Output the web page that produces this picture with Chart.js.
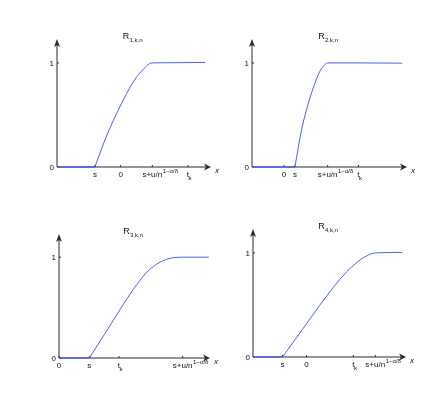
<!DOCTYPE html>
<html>
<head>
<meta charset="utf-8">
<script src="https://cdn.jsdelivr.net/npm/chart.js@4"></script>
<style>
  body { margin: 0; background: #fff; }
  .wrap { position: relative; width: 443px; height: 402px; }
  .wrap div { position: absolute; width: 221px; height: 201px; }
</style>
</head>
<body>
<div class="wrap">
  <div style="left:0;top:0"><canvas id="c1"></canvas></div>
  <div style="left:221px;top:0"><canvas id="c2"></canvas></div>
  <div style="left:0;top:201px"><canvas id="c3"></canvas></div>
  <div style="left:221px;top:201px"><canvas id="c4"></canvas></div>
</div>
<script>
// R_{1,k,n}
const r1FlatX = [0, 2.46];
const r1X = [2.46, 3.22, 4.09, 4.96, 5.61, 6.15, 7.5, 9.63];
const r1Y = [0, 0.30, 0.58, 0.82, 0.94, 1.0, 1.002, 1.005];
const r1Ticks = [2.46, 4.13, 6.19, 8.50];
const r1Labels = ['s', '0', 's+u/n^1−α/δ', 't_k'];

// R_{2,k,n}
const r2FlatX = [0, 2.77];
const r2X = [2.77, 3.20, 3.52, 3.95, 4.38, 4.71, 4.88, 7.0, 9.70];
const r2Y = [0, 0.36, 0.55, 0.76, 0.92, 0.985, 1.0, 1.0, 0.998];
const r2Ticks = [2.07, 2.77, 4.88, 6.87];
const r2Labels = ['0', 's', 's+u/n^1−α/δ', 't_k'];

// R_{3,k,n}
const r3FlatX = [0, 2.01];
const r3X = [2.01, 3.16, 4.04, 4.92, 5.81, 6.69, 7.57, 8.19, 9.93];
const r3Y = [0, 0.27, 0.48, 0.68, 0.85, 0.95, 0.995, 1.0, 1.0];
const r3Ticks = [0, 2.01, 3.97, 8.19];
const r3Labels = ['0', 's', 't_k', 's+u/n^1−α/δ'];

// R_{4,k,n}
const r4FlatX = [0, 1.93];
const r4X = [1.93, 3.50, 4.38, 5.25, 6.13, 6.56, 7.22, 7.99, 9.76];
const r4Y = [0, 0.32, 0.50, 0.67, 0.82, 0.88, 0.955, 1.0, 1.005];
const r4Ticks = [1.93, 3.50, 6.56, 7.99];
const r4Labels = ['s', '0', 't_k', 's+u/n^1−α/δ'];

const yTicks = [0, 1];
const yLabels = ['0', '1'];

const lineColor = '#4d5ef2';
const axisColor = '#2a2a2a';
const fontName = '"Liberation Sans", Arial, sans-serif';

// draws "a^b" (superscript) or "a_b" (subscript), centred on the main part
function drawTickLabel(ctx, text, x, y) {
    let main = text, sup = null, sub = null;
    if (text.includes('^')) [main, sup] = text.split('^');
    else if (text.includes('_')) [main, sub] = text.split('_');
    ctx.font = '8px ' + fontName;
    ctx.textBaseline = 'top';
    ctx.textAlign = 'center';
    ctx.fillText(main, x, y);
    let w = ctx.measureText(main).width;
    ctx.textAlign = 'left';
    if (sup) {
        ctx.font = '6px ' + fontName;
        ctx.fillText(sup, x + w / 2 + 0.5, y - 3);
    }
    if (sub) {
        ctx.font = '6px ' + fontName;
        ctx.fillText(sub, x + w / 2 - 0.5, y + 4);
    }
}

const axesPlugin = {
    id: 'axes',
    beforeDatasetsDraw(chart, args, opts) {
        const { ctx, chartArea: a, scales: { x, y } } = chart;
        const x0 = x.getPixelForValue(0);
        const y0 = y.getPixelForValue(0);
        ctx.save();
        ctx.strokeStyle = axisColor;
        ctx.fillStyle = axisColor;
        ctx.lineWidth = 1;
        ctx.beginPath();
        ctx.moveTo(x0, y0);
        ctx.lineTo(a.right - 4, y0);
        ctx.moveTo(x0, y0);
        ctx.lineTo(x0, a.top + 4);
        ctx.stroke();

        // arrow heads
        ctx.beginPath();
        ctx.moveTo(a.right, y0);
        ctx.lineTo(a.right - 7, y0 - 3.5);
        ctx.lineTo(a.right - 5, y0);
        ctx.lineTo(a.right - 7, y0 + 3.5);
        ctx.closePath();
        ctx.fill();
        ctx.beginPath();
        ctx.moveTo(x0, a.top);
        ctx.lineTo(x0 - 3, a.top + 8);
        ctx.lineTo(x0, a.top + 6);
        ctx.lineTo(x0 + 3, a.top + 8);
        ctx.closePath();
        ctx.fill();

        // small inward tick marks
        ctx.beginPath();
        opts.ticks.forEach(v => {
            const px = x.getPixelForValue(v);
            ctx.moveTo(px, y0);
            ctx.lineTo(px, y0 - 2);
        });
        yTicks.forEach(v => {
            const py = y.getPixelForValue(v);
            ctx.moveTo(x0, py);
            ctx.lineTo(x0 + 2, py);
        });
        ctx.stroke();

        // tick labels
        ctx.fillStyle = '#111';
        opts.ticks.forEach((v, i) => {
            drawTickLabel(ctx, opts.labels[i], x.getPixelForValue(v), y0 + 4);
        });
        ctx.font = '8px ' + fontName;
        ctx.textAlign = 'right';
        ctx.textBaseline = 'middle';
        yTicks.forEach((v, i) => {
            ctx.fillText(yLabels[i], x0 - 3, y.getPixelForValue(v) + 0.5);
        });

        // x label
        ctx.font = 'italic 8px ' + fontName;
        ctx.textAlign = 'left';
        ctx.fillText('x', a.right + 4, y0 + 4);

        // title R_{i,k,n}
        const cx = (a.left + a.right) / 2 - 8;
        ctx.font = '9px ' + fontName;
        ctx.textBaseline = 'alphabetic';
        ctx.textAlign = 'center';
        ctx.fillText('R', cx, a.top);
        ctx.font = '6px ' + fontName;
        ctx.textAlign = 'left';
        ctx.fillText(opts.title, cx + 3.5, a.top + 2.5);
        ctx.restore();
    }
};

function makeChart(id, flatX, xs, ys, ticks, labels, title, pad) {
    const flat = flatX.map(v => ({ x: v, y: 0 }));
    const curve = xs.map((v, i) => ({ x: v, y: ys[i] }));
    new Chart(document.getElementById(id), {
        type: 'line',
        data: {
            datasets: [{
                data: flat,
                borderColor: lineColor,
                borderWidth: 1.4,
                pointRadius: 0,
                tension: 0
            }, {
                data: curve,
                borderColor: lineColor,
                borderWidth: 1,
                pointRadius: 0,
                cubicInterpolationMode: 'monotone'
            }]
        },
        options: {
            responsive: true,
            maintainAspectRatio: false,
            animation: false,
            clip: 4,
            layout: { padding: pad },
            scales: {
                x: { type: 'linear', min: 0, max: 10, display: false },
                y: { type: 'linear', min: 0, max: 1.23, display: false }
            },
            plugins: {
                legend: { display: false },
                tooltip: { enabled: false },
                axes: { ticks: ticks, labels: labels, title: title }
            }
        },
        plugins: [axesPlugin]
    });
}

makeChart('c1', r1FlatX, r1X, r1Y, r1Ticks, r1Labels, '1,k,n', { left: 57, right: 10, top: 39, bottom: 34 });
makeChart('c2', r2FlatX, r2X, r2Y, r2Ticks, r2Labels, '2,k,n', { left: 31, right: 35, top: 39, bottom: 34 });
makeChart('c3', r3FlatX, r3X, r3Y, r3Ticks, r3Labels, '3,k,n', { left: 59, right: 11, top: 33, bottom: 44 });
makeChart('c4', r4FlatX, r4X, r4Y, r4Ticks, r4Labels, '4,k,n', { left: 32, right: 36, top: 28, bottom: 45 });
</script>
</body>
</html>
